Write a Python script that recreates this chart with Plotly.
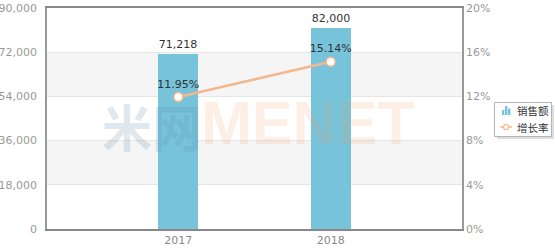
import plotly.graph_objects as go

years = ["2017", "2018"]
sales = [71218, 82000]
growth = [11.95, 15.14]
sales_labels = ["71,218", "82,000"]
growth_labels = ["11.95%", "15.14%"]
legend_names = ["销售额", "增长率"]

FONT = "DejaVu Sans, Verdana, sans-serif"
BAR = "#76c3da"
LINE = "#f5b78c"

L, R, T, B = 47, 462, 8, 229


def px(x):
    return (x - L) / (R - L)


def py(y):
    return (B - y) / (B - T)


fig = go.Figure()
fig.add_trace(go.Bar(
    x=years, y=sales, name=legend_names[0], width=0.263,
    marker=dict(color=BAR, line=dict(width=0)),
    text=sales_labels, textposition="outside", cliponaxis=False,
    textfont=dict(family=FONT, size=11, color="#333333"),
))
fig.add_trace(go.Scatter(
    x=years, y=growth, name=legend_names[1], yaxis="y2", mode="lines+markers+text",
    line=dict(color=LINE, width=2.5),
    marker=dict(size=9, color="white", line=dict(color=LINE, width=1.5)),
    text=growth_labels, textposition="top center", cliponaxis=False,
    textfont=dict(family=FONT, size=11, color="#333333"),
))

shapes = []
for lo, hi in [(18000, 36000), (54000, 72000)]:
    shapes.append(dict(type="rect", xref="paper", yref="y", x0=0, x1=1, y0=lo, y1=hi,
                       fillcolor="#f5f5f5", line=dict(width=0), layer="below"))

# legend box (drawn manually for compactness)
shapes.append(dict(type="rect", xref="paper", yref="paper", x0=px(497), x1=px(554), y0=py(105), y1=py(139),
                   fillcolor="rgba(0,0,0,0.13)", line=dict(width=0), layer="above"))
shapes.append(dict(type="rect", xref="paper", yref="paper", x0=px(494.5), x1=px(551.5), y0=py(102.5), y1=py(136.5),
                   fillcolor="white", line=dict(color="#b5b5b5", width=1), layer="above"))
# bar icon
for x0, top in [(502, 110), (505, 106), (508, 108.5)]:
    shapes.append(dict(type="rect", xref="paper", yref="paper", x0=px(x0), x1=px(x0 + 2.4), y0=py(115), y1=py(top),
                       fillcolor=BAR, line=dict(width=0), layer="above"))
# line icon
shapes.append(dict(type="line", xref="paper", yref="paper", x0=px(500), x1=px(512), y0=py(127), y1=py(127),
                   line=dict(color=LINE, width=1.5), layer="above"))
shapes.append(dict(type="circle", xref="paper", yref="paper", x0=px(503.5), x1=px(508.5), y0=py(124.5), y1=py(129.5),
                   fillcolor="white", line=dict(color=LINE, width=1.2), layer="above"))

annotations = [
    dict(text="<b>米网</b>", x=px(152), y=py(125), xref="paper", yref="paper", xanchor="center", yanchor="middle",
         showarrow=False, font=dict(family="Noto Sans CJK SC", size=50, color="rgba(100,140,170,0.2)")),
    dict(text="<b>MENET</b>", x=px(308), y=py(123), xref="paper", yref="paper", xanchor="center", yanchor="middle",
         showarrow=False, font=dict(family="Liberation Sans, Arial", size=61, color="rgba(240,150,90,0.15)")),
    dict(text=legend_names[0], x=px(515), y=py(110), xref="paper", yref="paper", xanchor="left",
         showarrow=False, font=dict(family="Noto Sans CJK SC", size=10.5, color="#333333")),
    dict(text=legend_names[1], x=px(515), y=py(127), xref="paper", yref="paper", xanchor="left",
         showarrow=False, font=dict(family="Noto Sans CJK SC", size=10.5, color="#333333")),
]

fig.update_layout(
    width=555, height=250,
    margin=dict(l=L, r=555 - R, t=T, b=250 - B, autoexpand=False),
    paper_bgcolor="white", plot_bgcolor="white",
    font=dict(family=FONT, size=11, color="#999999"),
    showlegend=False,
    xaxis=dict(type="category", range=[-0.862, 1.862], showgrid=False,
               showline=True, linecolor="#888888", linewidth=1.5, mirror=True,
               ticks="", tickfont=dict(color="#888888"), fixedrange=True),
    yaxis=dict(range=[0, 90000], dtick=18000, tickformat=",d", showgrid=True,
               gridcolor="#e6e6e6", showline=True, linecolor="#999999", linewidth=1.5,
               zeroline=False, ticks="", ticklabelstandoff=6),
    yaxis2=dict(range=[0, 20], dtick=4, ticksuffix="%", overlaying="y", side="right",
                showgrid=False, showline=True, linecolor="#999999", linewidth=1.5,
                zeroline=False, ticks=""),
    shapes=shapes, annotations=annotations, bargap=0,
)

fig.write_html("out.html")
